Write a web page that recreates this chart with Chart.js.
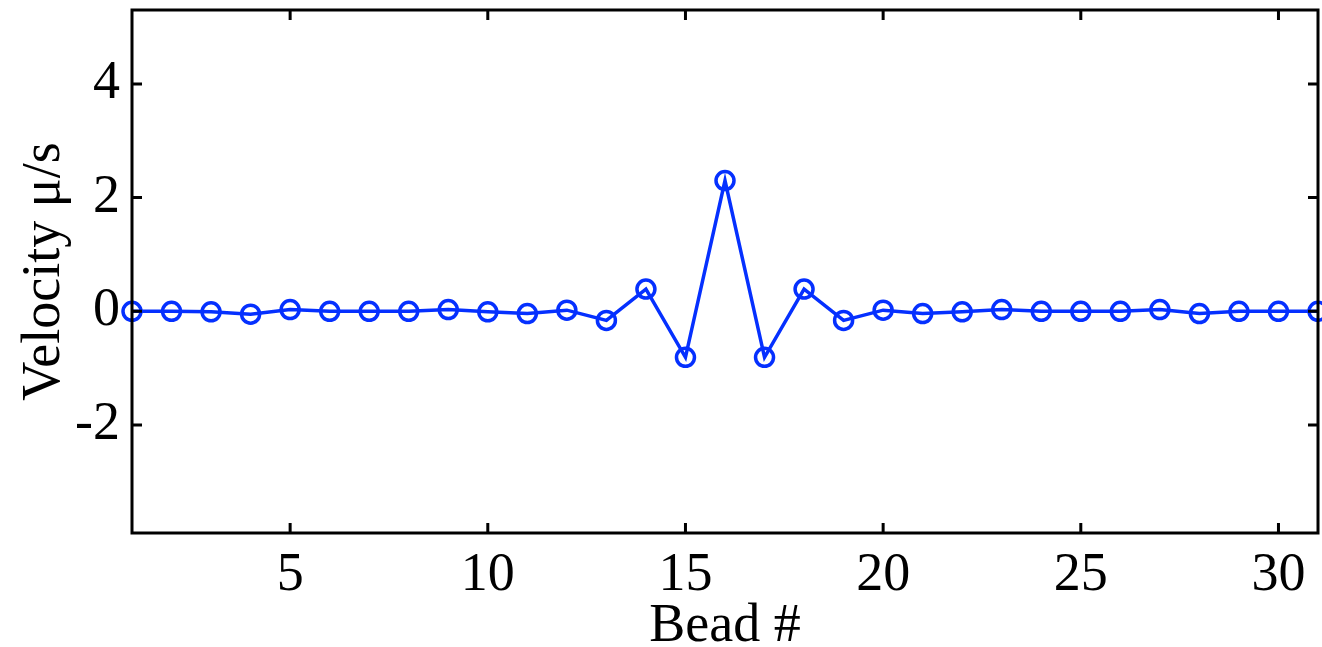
<!DOCTYPE html>
<html>
<head>
<meta charset="utf-8">
<script src="https://cdn.jsdelivr.net/npm/chart.js@4"></script>
<style>
  html, body { margin: 0; padding: 0; background: #fff; }
  #wrap { width: 1322px; height: 647px; }
</style>
</head>
<body>
<div id="wrap"><canvas id="beadChart" width="1322" height="647"></canvas></div>
<script>
const beads = [1, 2, 3, 4, 5, 6, 7, 8, 9, 10, 11, 12, 13, 14, 15, 16,
  17, 18, 19, 20, 21, 22, 23, 24, 25, 26, 27, 28, 29, 30, 31];
const velocity = [0, 0, -0.01, -0.05, 0.03, 0, 0, 0, 0.03, -0.01, -0.04, 0.02,
  -0.16, 0.39, -0.81, 2.3, -0.81, 0.39, -0.16, 0.02, -0.04, -0.01, 0.03,
  0, 0, 0, 0.03, -0.04, 0, 0, 0];
const xTicks = [5, 10, 15, 20, 25, 30];
const yTicks = [-2, 0, 2, 4];
const xRange = [1, 31];
const yRange = [-3.9, 5.3];

const serif = "'Liberation Serif', 'Times New Roman', serif";

// box + inward ticks like a matlab axes
const boxTicks = {
  id: "boxTicks",
  afterDraw(chart) {
    const { ctx, chartArea: a, scales } = chart;
    const len = 10;
    ctx.save();
    ctx.strokeStyle = "#000";
    ctx.lineWidth = 3;
    ctx.beginPath();
    scales.x.ticks.forEach(t => {
      const px = scales.x.getPixelForValue(t.value);
      ctx.moveTo(px, a.bottom); ctx.lineTo(px, a.bottom - len);
      ctx.moveTo(px, a.top); ctx.lineTo(px, a.top + len);
    });
    scales.y.ticks.forEach(t => {
      const py = scales.y.getPixelForValue(t.value);
      ctx.moveTo(a.left, py); ctx.lineTo(a.left + len, py);
      ctx.moveTo(a.right, py); ctx.lineTo(a.right - len, py);
    });
    ctx.stroke();
    ctx.lineJoin = "miter";
    ctx.strokeRect(a.left, a.top, a.right - a.left, a.bottom - a.top);
    ctx.restore();
  }
};

new Chart(document.getElementById("beadChart"), {
  type: "scatter",
  data: {
    datasets: [{
      data: beads.map((b, i) => ({ x: b, y: velocity[i] })),
      showLine: true,
      borderColor: "#0530ff",
      borderWidth: 3.5,
      pointRadius: 9,
      pointBorderWidth: 3.5,
      pointBackgroundColor: "rgba(0,0,0,0)",
      pointBorderColor: "#0530ff",
      clip: false,
    }],
  },
  options: {
    responsive: false,
    animation: false,
    events: [],
    layout: { autoPadding: false, padding: { top: 10, right: 4, left: 0, bottom: 0 } },
    plugins: { legend: { display: false }, tooltip: { enabled: false } },
    scales: {
      x: {
        type: "linear",
        min: xRange[0],
        max: xRange[1],
        afterBuildTicks: s => { s.ticks = xTicks.map(v => ({ value: v })); },
        afterFit: s => { s.height = 114; s.paddingLeft = 0; s.paddingRight = 0; },
        grid: { display: false, drawTicks: false },
        border: { display: false },
        ticks: { color: "#000", padding: 10, maxRotation: 0, font: { family: serif, size: 54 } },
        title: { display: true, text: "Bead #", color: "#000", padding: { top: 0, bottom: -12 }, font: { family: serif, size: 54 } },
      },
      y: {
        type: "linear",
        min: yRange[0],
        max: yRange[1],
        afterBuildTicks: s => { s.ticks = yTicks.map(v => ({ value: v })); },
        afterFit: s => { s.width = 132; s.paddingTop = 0; s.paddingBottom = 0; },
        grid: { display: false, drawTicks: false },
        border: { display: false },
        ticks: { color: "#000", padding: 12, font: { family: serif, size: 54 } },
        title: { display: true, text: "Velocity μ/s", color: "#000", padding: { top: 12, bottom: 0 }, font: { family: serif, size: 54 } },
      },
    },
  },
  plugins: [boxTicks],
});
</script>
</body>
</html>
